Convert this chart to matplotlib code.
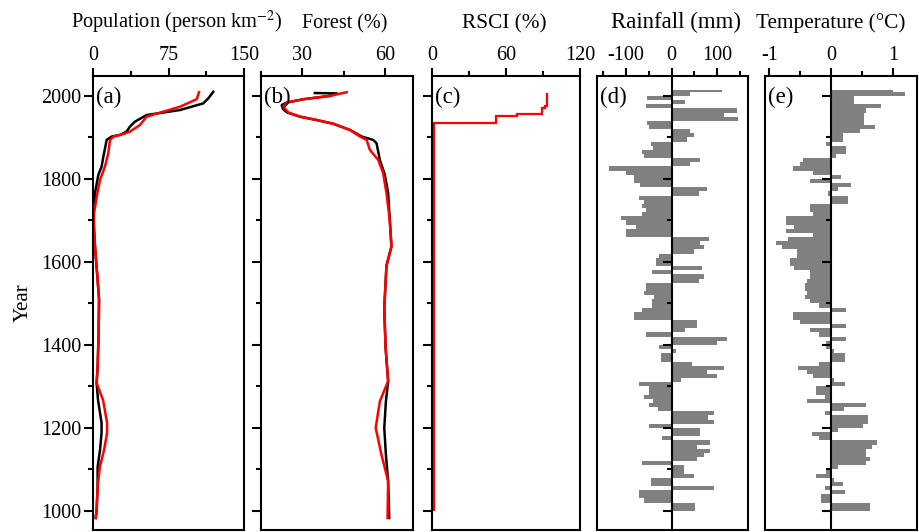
import matplotlib
matplotlib.use("Agg")
import matplotlib.pyplot as plt
import numpy as np
from matplotlib.ticker import MultipleLocator

plt.rcParams["font.family"] = ["Liberation Serif", "DejaVu Serif"]
plt.rcParams["axes.unicode_minus"] = False
plt.rcParams["mathtext.fontset"] = "stix"

# (a) population density, reconstructed (black) and modelled (red)
pop_black_year = [983, 1002, 1058, 1106, 1147, 1188, 1212, 1267, 1308, 1347, 1429, 1510, 1560,
                  1605, 1637, 1680, 1718, 1766, 1810, 1830, 1854, 1894, 1902, 1906, 1914, 1926,
                  1938, 1954, 1966, 1982, 1994, 2010]
pop_black = [2.7, 3.6, 4.6, 4.6, 7, 8.5, 8.5, 5, 3.6, 4.6, 5.6, 6, 4.5, 3, 2, 1, 0.3, 2, 5.3,
             8.6, 10.3, 13.6, 18.5, 26.8, 33.4, 36.7, 41.7, 53.3, 86.4, 109.5, 114.5, 119.5]
pop_red_year = [983, 1002, 1058, 1106, 1147, 1188, 1212, 1267, 1308, 1347, 1429, 1510, 1560,
                1605, 1637, 1680, 1717, 1757, 1798, 1830, 1862, 1894, 1902, 1908, 1914, 1922,
                1930, 1950, 1962, 1974, 1992, 2009]
pop_red = [2.7, 3.6, 4.6, 6.8, 11, 14, 14, 10, 3.6, 4.6, 5.6, 6, 4.5, 3, 2, 1, 1, 3.7, 7, 11.9,
           15.2, 16.9, 20.2, 30, 36.7, 41.7, 46.7, 53.3, 69.8, 86.4, 103, 105.3]

# (b) forest cover
forest_black_year = [983, 1072, 1135, 1200, 1264, 1313, 1392, 1488, 1591, 1637, 1701, 1766,
                     1810, 1846, 1886, 1894, 1902, 1918, 1933, 1942, 1950, 1960, 1968, 1978,
                     1984, 1992, 2000, 2006, 2007]
forest_black = [61.4, 61, 60.2, 59.6, 60.2, 61, 60.1, 59.6, 60.4, 62.2, 61.6, 61, 59.8, 58,
                56.8, 55.6, 51.5, 47.2, 41.1, 35.1, 29.1, 24.5, 23, 22.5, 24.3, 30.3, 40,
                42.5, 34.5]
forest_red_year = [983, 1072, 1135, 1200, 1264, 1313, 1392, 1488, 1591, 1637, 1701, 1766,
                   1814, 1846, 1870, 1894, 1902, 1918, 1933, 1942, 1950, 1960, 1974, 1984,
                   1992, 2000, 2009]
forest_red = [60.8, 61, 58.6, 56.5, 58, 61, 60.1, 59.6, 60.4, 62.2, 61.6, 60.4, 59.2, 57.4,
              54.4, 53.2, 50.8, 47.2, 41.1, 35.1, 29.1, 24.9, 23.1, 24.3, 30.3, 40, 46]

# (c) RSCI, stepwise
rsci_edges = [1000, 1935, 1952, 1957, 1971, 1976, 2007]
rsci = [1.6, 52, 69, 89, 92, 93]

# (d) rainfall and (e) temperature anomalies, decadal bins from 2010 down to 1000
decade = np.arange(2010, 999, -10)
rain = [110, 40, -53, 30, -56, 143, 114, 146, -53, -50,
        40, 48, 34, -45, -40, -64, -60, 63, 40, -136,
        -100, -82, -82, -70, 78, 60, -71, -60, -64, -55,
        -64, -111, -100, -78, -100, -100, 81, 63, 70, 48,
        -28, -35, -35, 67, -42, 70, 60, -56, -56, -60,
        -38, -42, -42, -64, -82, -82, 56, 56, 30, -56,
        121, 100, -28, 10, -24, -24, 45, 114, 78, 100,
        20, -71, -49, -49, -60, -40, -49, -30, 92, 80,
        92, -49, 63, 63, -20, 85, 56, 85, 70, 56,
        -64, 27, 27, 48, -45, -45, 92, -71, -71, -60,
        52, 52]
temp = [1.0, 1.18, 0.36, 0.36, 0.8, 0.56, 0.53, 0.53, 0.53, 0.70,
        0.46, 0.19, 0.19, -0.08, 0.24, 0.24, 0.08, -0.45, -0.5, -0.62,
        -0.30, 0.16, -0.35, 0.32, 0.10, -0.05, 0.27, 0.27, -0.35, -0.35,
        -0.30, -0.73, -0.73, -0.60, -0.73, -0.30, -0.70, -0.89, -0.80, -0.56,
        -0.56, -0.67, -0.67, -0.60, -0.35, -0.35, -0.40, -0.43, -0.43, -0.40,
        -0.43, -0.35, -0.20, 0.24, -0.62, -0.62, -0.50, 0.24, -0.35, -0.20,
        0.24, -0.08, -0.08, 0.05, 0.22, 0.22, -0.20, -0.54, -0.40, -0.30,
        0.05, 0.22, -0.24, -0.24, -0.10, -0.40, 0.56, 0.20, -0.11, 0.59,
        0.59, 0.51, 0.10, -0.32, -0.20, 0.73, 0.65, 0.56, 0.56, 0.62,
        0.56, 0.10, -0.08, -0.24, 0.05, 0.19, -0.11, 0.22, -0.16, -0.16,
        0.62, 0.62]
series_top = 2015

FS_TICK = 14.5
LW_AX = 1.5
YLIM = (954, 2048)

fig = plt.figure(figsize=(9.2, 5.32), dpi=100)
W, H = 920.0, 532.0
boxes = [(93, 244), (261, 413), (432, 580), (597, 748), (765, 917)]
top_px, bot_px = 76, 530
axes = [fig.add_axes([l / W, 1 - bot_px / H, (r - l) / W, (bot_px - top_px) / H])
        for l, r in boxes]


def style(ax, xlim, major, minor, label, label_x, label_fs, panel):
    ax.set_xlim(*xlim)
    ax.set_ylim(*YLIM)
    ax.xaxis.set_major_locator(MultipleLocator(major))
    ax.xaxis.set_minor_locator(MultipleLocator(minor))
    ax.yaxis.set_major_locator(MultipleLocator(200))
    ax.yaxis.set_minor_locator(MultipleLocator(100))
    ax.xaxis.set_label_position("top")
    ax.tick_params(axis="x", which="both", top=True, bottom=False, labeltop=True,
                   labelbottom=False, direction="out", width=LW_AX, labelsize=FS_TICK, pad=2)
    ax.tick_params(axis="x", which="major", length=6)
    ax.tick_params(axis="x", which="minor", length=3.5)
    ax.tick_params(axis="y", which="both", left=True, right=False, labelleft=False,
                   direction="out", width=LW_AX, labelsize=FS_TICK, pad=2)
    ax.tick_params(axis="y", which="major", length=6.5)
    ax.tick_params(axis="y", which="minor", length=3.5)
    for sp in ax.spines.values():
        sp.set_linewidth(LW_AX)
    ax.set_xlabel(label, fontsize=label_fs)
    ax.xaxis.set_label_coords(label_x, 1.105)
    ax.text(0.02, 0.975, panel, transform=ax.transAxes, fontsize=16.5, va="top", ha="left")


# (a)
ax = axes[0]
ax.plot(pop_black, pop_black_year, color="black", lw=1.8, solid_joinstyle="round")
ax.plot(pop_red, pop_red_year, color="red", lw=1.8, solid_joinstyle="round")
style(ax, (0, 150), 75, 37.5, r"Population (person km$^{-2}$)", 0.553, 14.7, "(a)")
ax.tick_params(axis="y", labelleft=True)
ax.set_ylabel("Year", fontsize=15, labelpad=6)

# (b)
ax = axes[1]
ax.plot(forest_black, forest_black_year, color="black", lw=1.8, solid_joinstyle="round")
ax.plot(forest_red, forest_red_year, color="red", lw=1.8, solid_joinstyle="round")
style(ax, (15, 70), 30, 15, "Forest (%)", 0.553, 14.5, "(b)")
ax.set_xticks([30, 60])

# (c)
ax = axes[2]
ax.stairs(rsci, rsci_edges, orientation="horizontal", baseline=None, color="red", lw=1.6)
style(ax, (0, 120), 60, 30, "RSCI (%)", 0.49, 15.3, "(c)")
fig.canvas.draw()
ax.get_xticklabels()[-1].set_ha("right")

# (d) and (e): anomaly profiles filled against a zero axis
order = np.argsort(decade)
edges = np.append(decade[order], series_top)
step_y = np.repeat(edges, 2)[1:-1]
for ax, vals, xlim, major, minor, label, lx, lfs, panel in [
    (axes[3], rain, (-163, 167), 100, 50, "Rainfall (mm)", 0.52, 16.5, "(d)"),
    (axes[4], temp, (-1.07, 1.38), 1, 0.5, "Temperature (\u00b0C)", 0.43, 15.3, "(e)"),
]:
    step_x = np.repeat(np.asarray(vals, float)[order], 2)
    ax.fill_betweenx(step_y, 0, step_x, color="#808080", lw=0)
    style(ax, xlim, major, minor, label, lx, lfs, panel)
    ax.spines["left"].set_position(("data", 0))
    ax.spines["left"].set_zorder(3)
    ax.plot([0, 0], [0, 1], transform=ax.transAxes, color="black", lw=LW_AX,
            clip_on=False, solid_capstyle="butt")

fig.savefig("out.png", dpi=100)
